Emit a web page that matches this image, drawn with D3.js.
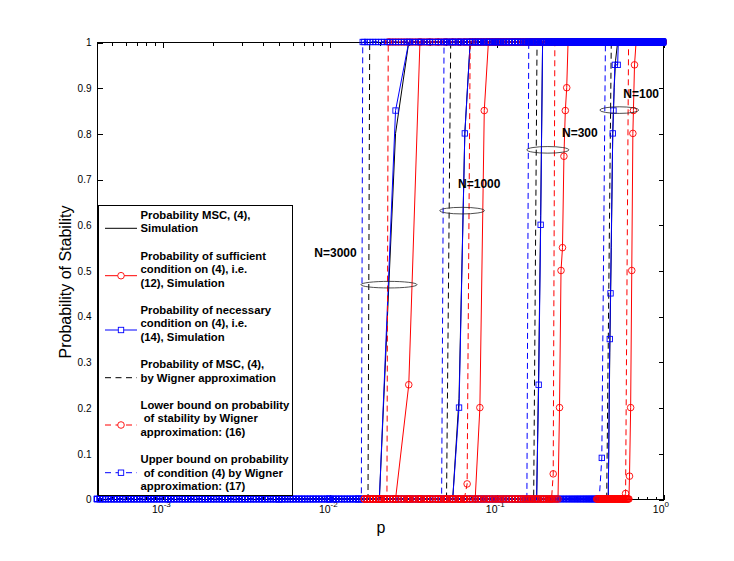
<!DOCTYPE html>
<html>
<head>
<meta charset="utf-8">
<script src="https://cdn.jsdelivr.net/npm/d3@7"></script>
<style>
  body { margin: 0; background: #fff; }
  text { font-family: "Liberation Sans", Arial, Helvetica, sans-serif; }
</style>
</head>
<body>
<svg id="chart"></svg>
<script>
// Probability of stability vs p, four network sizes

const pMin = 4.07e-4;
const groups = ["N=3000", "N=1000", "N=300", "N=100"];

// points where each curve leaves 0 and reaches 1, [p, probability]
// Probability MSC, (4), Simulation (black solid)
const mscSim = [
  [[0.02, 0], [0.025, 0.8], [0.03, 1]],
  [[0.055, 0], [0.06, 0.22], [0.065, 0.8], [0.07, 1]],
  [[0.175, 0], [0.18, 0.28], [0.185, 0.62], [0.19, 1]],
  [[0.47, 0], [0.48, 0.32], [0.49, 0.55], [0.5, 0.8], [0.51, 0.9], [0.52, 0.96], [0.535, 1]]
];
// sufficient condition (12), Simulation (red, circles)
const sufSim = [
  [[0.025, 0], [0.03, 0.25], [0.035, 1]],
  [[0.075, 0], [0.08, 0.2], [0.085, 0.85], [0.09, 1]],
  [[0.235, 0], [0.24, 0.2], [0.245, 0.5], [0.25, 0.55], [0.255, 0.75], [0.26, 0.85], [0.265, 0.9], [0.27, 1]],
  [[0.625, 0], [0.63, 0.05], [0.64, 0.2], [0.65, 0.5], [0.66, 0.8], [0.665, 0.85], [0.675, 0.95], [0.69, 1]]
];
// necessary condition (14), Simulation (blue, squares)
const necSim = [
  [[0.02, 0], [0.025, 0.85], [0.03, 1]],
  [[0.055, 0], [0.06, 0.2], [0.065, 0.8], [0.07, 1]],
  [[0.175, 0], [0.18, 0.25], [0.185, 0.6], [0.19, 1]],
  [[0.47, 0], [0.48, 0.35], [0.485, 0.45], [0.5, 0.8], [0.505, 0.85], [0.515, 0.95], [0.535, 0.95], [0.54, 1]]
];
// MSC by Wigner approximation (black dashed)
const mscWig = [
  [[0.0171, 0], [0.0175, 1]],
  [[0.0505, 0], [0.0535, 1]],
  [[0.168, 0], [0.176, 1]],
  [[0.46, 0], [0.49, 1]]
];
// lower bound (16) (red dashed, circles)
const lowWig = [
  [[0.0222, 0], [0.0226, 1]],
  [[0.0645, 0], [0.0671, 0.033], [0.07, 1]],
  [[0.215, 0], [0.22, 0.055], [0.225, 1]],
  [[0.58, 0], [0.597, 0.012], [0.622, 1]]
];
// upper bound (17) (blue dashed, squares)
const uppWig = [
  [[0.0156, 0], [0.0159, 1]],
  [[0.0472, 0], [0.0488, 1]],
  [[0.153, 0], [0.157, 1]],
  [[0.415, 0], [0.43, 0.09], [0.452, 1]]
];
// first sampled p of the red curves
const sufFrom = [0.016, 0.016, 0.016, 0.40];
const lowFrom = [0.016, 0.016, 0.016, 0.40];

// sampled p values: simulations on a 0.005 step, Wigner curves on a log grid
const simGrid = d3.range(1, 201).map(k => k * 5 / 1000);
const wigGrid = d3.range(200).map(k => pMin * Math.pow(1 / pMin, k / 199));

// annotations
const ellipseAt = [[0.02284, 0.469], [0.0626, 0.631], [0.2042, 0.764], [0.5473, 0.851]];
const labelAt = [[0.00815, 0.53], [0.0592, 0.68], [0.2484, 0.7926], [0.5785, 0.877]];

const legendLabels = [
  ["Probability MSC, (4),", "Simulation"],
  ["Probability of sufficient", "condition on (4), i.e.", "(12), Simulation"],
  ["Probability of necessary", "condition on (4), i.e.", "(14), Simulation"],
  ["Probability of MSC, (4),", "by Wigner approximation"],
  ["Lower bound on probability", " of stability by Wigner", "approximation: (16)"],
  ["Upper bound on probability", " of condition (4) by Wigner", "approximation: (17)"]
];
const yTicks = [0, 0.1, 0.2, 0.3, 0.4, 0.5, 0.6, 0.7, 0.8, 0.9, 1];
const xMajor = [1e-3, 1e-2, 1e-1, 1];

// ---- layout ----
const width = 734, height = 561;
const plotL = 97, plotR = 663, plotT = 42, plotB = 499;

const svg = d3.select("#chart").attr("width", width).attr("height", height);
svg.append("rect").attr("width", width).attr("height", height).attr("fill", "#fff");

const x = d3.scaleLog().domain([pMin, 1]).range([plotL, plotR]);
const y = d3.scaleLinear().domain([0, 1]).range([plotB, plotT]);

// axes: box with inward ticks on all four sides
const ax = svg.append("g").attr("shape-rendering", "crispEdges");
ax.append("rect")
  .attr("x", plotL + 0.5).attr("y", plotT + 0.5)
  .attr("width", plotR - plotL).attr("height", plotB - plotT)
  .attr("fill", "none").attr("stroke", "#000");

const yl = ax.append("g").attr("transform", `translate(${plotL + 0.5},0.5)`)
  .call(d3.axisLeft(y).tickValues(yTicks).tickFormat(d3.format("~g")).tickSizeInner(-5).tickSizeOuter(0).tickPadding(6));
ax.append("g").attr("transform", `translate(${plotR + 0.5},0.5)`)
  .call(d3.axisRight(y).tickValues(yTicks).tickFormat("").tickSizeInner(-5).tickSizeOuter(0));

const xMinor = x.ticks().filter(t => !xMajor.some(m => Math.abs(m - t) < m * 1e-6));
ax.append("g").attr("transform", `translate(0.5,${plotB + 0.5})`)
  .call(d3.axisBottom(x).tickValues(xMajor).tickFormat("").tickSizeInner(-5).tickSizeOuter(0));
ax.append("g").attr("transform", `translate(0.5,${plotB + 0.5})`)
  .call(d3.axisBottom(x).tickValues(xMinor).tickFormat("").tickSizeInner(-3).tickSizeOuter(0));
ax.append("g").attr("transform", `translate(0.5,${plotT + 0.5})`)
  .call(d3.axisTop(x).tickValues(xMajor).tickFormat("").tickSizeInner(-5).tickSizeOuter(0));
ax.append("g").attr("transform", `translate(0.5,${plotT + 0.5})`)
  .call(d3.axisTop(x).tickValues(xMinor).tickFormat("").tickSizeInner(-3).tickSizeOuter(0));
ax.selectAll(".domain").remove();
ax.selectAll(".tick line").attr("stroke", "#000");

yl.selectAll(".tick text").attr("font-size", 10).attr("fill", "#000")
  .attr("font-family", "'Liberation Sans', Arial, sans-serif");

// x tick labels 10^k
xMajor.forEach(v => {
  const e = Math.round(Math.log10(v));
  svg.append("text").attr("x", x(v) + 1.5).attr("y", 513).attr("text-anchor", "end")
    .attr("font-size", 10.5).attr("fill", "#000").text("10");
  svg.append("text").attr("x", x(v) + 1.5).attr("y", 506.5).attr("font-size", 8)
    .attr("fill", "#000").text(e === 0 ? "0" : String(e));
});

svg.append("text").attr("x", 381).attr("y", 533).attr("text-anchor", "middle")
  .attr("font-size", 16).text("p");
svg.append("text").attr("transform", "translate(71,282) rotate(-90)")
  .attr("text-anchor", "middle").attr("font-size", 16).text("Probability of Stability");

// ---- data ----
const seriesData = [mscSim, sufSim, necSim, mscWig, lowWig, uppWig];
const seriesGrid = [simGrid, simGrid, simGrid, wigGrid, wigGrid, wigGrid];
const seriesFrom = [null, sufFrom, null, null, lowFrom, null];
const styles = [
  { color: "#000", dash: null, marker: null },
  { color: "#f00", dash: null, marker: "circle" },
  { color: "#00f", dash: null, marker: "square" },
  { color: "#000", dash: "6,4", marker: null },
  { color: "#f00", dash: "6,4", marker: "circle" },
  { color: "#00f", dash: "6,4", marker: "square" }
];

function fullSeries(pts, grid, from) {
  const first = pts[0][0], last = pts[pts.length - 1][0];
  const before = grid.filter(p => p >= from && p < first).map(p => [p, 0]);
  const after = grid.filter(p => p > last).map(p => [p, 1]);
  return before.concat(pts, after);
}

function drawMarkers(g, pts, st) {
  if (st.marker === "circle") {
    g.selectAll(null).data(pts).enter().append("circle")
      .attr("cx", d => x(d[0])).attr("cy", d => y(d[1])).attr("r", 3.3)
      .attr("fill", "none").attr("stroke", st.color).attr("stroke-width", 0.9);
  } else if (st.marker === "square") {
    g.selectAll(null).data(pts).enter().append("rect")
      .attr("x", d => x(d[0]) - 2.7).attr("y", d => y(d[1]) - 2.7)
      .attr("width", 5.4).attr("height", 5.4)
      .attr("fill", "none").attr("stroke", st.color).attr("stroke-width", 0.9);
  }
}

const line = d3.line().x(d => x(d[0])).y(d => y(d[1]));
const linesG = svg.append("g");
// marker layers: at 0 circles sit over squares, at 1 squares over circles
const layers = {
  sq0: svg.append("g"), ci1: svg.append("g"), ci0: svg.append("g"),
  sq1: svg.append("g"), mid: svg.append("g")
};

groups.forEach((g, gi) => {
  seriesData.forEach((s, si) => {
    const st = styles[si];
    const from = seriesFrom[si] ? seriesFrom[si][gi] : 0;
    const pts = fullSeries(s[gi], seriesGrid[si], from);
    linesG.append("path").datum(pts).attr("d", line)
      .attr("fill", "none").attr("stroke", st.color).attr("stroke-width", 1)
      .attr("stroke-dasharray", st.dash);
    if (!st.marker) return;
    const sq = st.marker === "square";
    drawMarkers(sq ? layers.sq0 : layers.ci0, pts.filter(d => d[1] === 0), st);
    drawMarkers(sq ? layers.sq1 : layers.ci1, pts.filter(d => d[1] === 1), st);
    drawMarkers(layers.mid, pts.filter(d => d[1] > 0 && d[1] < 1), st);
  });
});

// annotations: ellipses and N labels
const ellipseRx = [28, 22.3, 21, 19.5];
groups.forEach((g, i) => {
  svg.append("ellipse")
    .attr("cx", x(ellipseAt[i][0])).attr("cy", y(ellipseAt[i][1]))
    .attr("rx", ellipseRx[i]).attr("ry", 3.3)
    .attr("fill", "none").attr("stroke", "#222").attr("stroke-width", 0.8);
  svg.append("text")
    .attr("x", x(labelAt[i][0])).attr("y", y(labelAt[i][1]))
    .attr("font-size", 12).attr("font-weight", "bold").text(g);
});

// ---- legend ----
const lg = svg.append("g");
lg.append("rect").attr("x", 98.5).attr("y", 205.5).attr("width", 194).attr("height", 290)
  .attr("fill", "#fff").attr("stroke", "#000").attr("shape-rendering", "crispEdges");
const entryTop = [215, 255.7, 310, 364.3, 405, 459.3];
const sampleY = [228.3, 275.7, 330, 377.7, 425, 472.7];
legendLabels.forEach((lines, i) => {
  const st = styles[i];
  const t = lg.append("text").attr("font-size", 11.3).attr("font-weight", "bold")
    .attr("fill", "#000").style("white-space", "pre");
  lines.forEach((s, j) => {
    t.append("tspan").attr("x", 140.5).attr("y", entryTop[i] + 4 + j * 13.4).text(s);
  });
  lg.append("line").attr("x1", 105).attr("x2", 137).attr("y1", sampleY[i]).attr("y2", sampleY[i])
    .attr("stroke", st.color).attr("stroke-width", 1).attr("stroke-dasharray", st.dash ? "6,4.5" : null);
  if (st.marker === "circle") {
    lg.append("circle").attr("cx", 121).attr("cy", sampleY[i]).attr("r", 3.3)
      .attr("fill", "#fff").attr("stroke", st.color).attr("stroke-width", 0.9);
  } else if (st.marker === "square") {
    lg.append("rect").attr("x", 118.3).attr("y", sampleY[i] - 2.7).attr("width", 5.4).attr("height", 5.4)
      .attr("fill", "#fff").attr("stroke", st.color).attr("stroke-width", 0.9);
  }
});
</script>
</body>
</html>
